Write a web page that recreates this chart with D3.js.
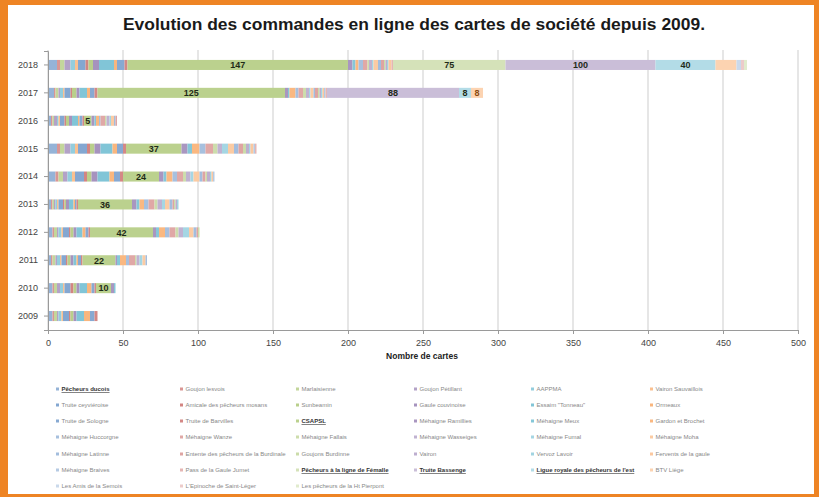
<!DOCTYPE html>
<html><head><meta charset="utf-8">
<script src="https://cdn.jsdelivr.net/npm/d3@7"></script>
<style>body{margin:0;background:#fff;}svg{display:block}</style>
</head><body>
<svg id="chart" width="819" height="497"></svg>
<script>
// ---------- DATA ----------
const years = ["2018","2017","2016","2015","2014","2013","2012","2011","2010","2009"];
const seriesNames = [
  "Pêcheurs ducois","Goujon lesvois","Marlaisienne","Goujon Pétillant","AAPPMA","Vairon Sauvaillois",
  "Truite ceyviéroise","Amicale des pêcheurs mosans","Sunbeamin","Gaule couvinoise","Essaim \"Tonneau\"","Ormeaux",
  "Truite de Sologne","Truite de Barvilles","CSAPSL","Méhaigne Ramillies","Méhaigne Meux","Gardon et Brochet",
  "Méhaigne Huccorgne","Méhaigne Wanze","Méhaigne Fallais","Méhaigne Wasseiges","Méhaigne Fumal","Méhaigne Moha",
  "Méhaigne Latinne","Entente des pêcheurs de la Burdinale","Goujons Burdinne","Vairon","Vervoz Lavoir","Fervents de la gaule",
  "Méhaigne Braives","Pass de la Gaule Jumet","Pêcheurs à la ligne de Fémalle","Truite Bassenge","Ligue royale des pêcheurs de l'est","BTV Liège",
  "Les Amis de la Semois","L'Epinoche de Saint-Léger","Les pêcheurs de la Ht Pierpont"
];
const values2018 = [6,2,3,4,3,2,5,2,3,4,10,2,5,2,147,3,2,2,3,3,1,2,1,3,2,2,1,1,1,2,0,1,75,100,40,14,3,2,2];
const values2017 = [4,1,2,1,2,1,4,1,3,2,5,2,3,2,125,2,1,4,2,3,2,2,1,2,1,2,1,1,1,1,1,1,0,88,8,8,0,0,0];
const values2016 = [2,1,1,2,1,1,3,1,2,2,4,1,2,1,5,2,1,2,1,3,1,2,1,2,1,1,0,0,0,0,0,0,0,0,0,0,0,0,0];
const values2015 = [6,2,3,4,3,2,6,2,3,4,8,3,4,2,37,4,3,5,4,5,3,3,4,4,3,3,2,2,1,2,1,1,0,0,0,0,0,0,0];
const values2014 = [5,2,3,3,3,2,6,2,3,4,8,3,4,2,24,3,2,4,3,4,2,3,2,4,2,2,1,2,1,1,1,0,0,0,0,0,0,0,0];
const values2013 = [2,1,1,1,1,1,3,1,1,2,3,1,1,1,36,3,2,3,3,4,2,3,2,3,2,1,1,1,1,0,0,0,0,0,0,0,0,0,0];
const values2012 = [3,1,2,1,2,1,4,1,2,2,4,2,2,1,42,2,2,4,3,4,2,3,4,3,2,1,1,0,0,0,0,0,0,0,0,0,0,0,0];
const values2011 = [2,1,2,1,2,1,3,1,2,2,2,1,2,1,22,1,2,4,2,4,1,2,2,2,1,0,0,0,0,0,0,0,0,0,0,0,0,0,0];
const values2010 = [3,1,2,2,2,1,4,2,2,2,5,3,2,1,10,2,1,0,0,0,0,0,0,0,0,0,0,0,0,0,0,0,0,0,0,0,0,0,0];
const values2009 = [3,1,2,1,2,1,4,1,2,2,5,4,3,2,0,0,0,0,0,0,0,0,0,0,0,0,0,0,0,0,0,0,0,0,0,0,0,0,0];
const valuesByYear = {"2018":values2018,"2017":values2017,"2016":values2016,"2015":values2015,"2014":values2014,
  "2013":values2013,"2012":values2012,"2011":values2011,"2010":values2010,"2009":values2009};
const xTicks = [0,50,100,150,200,250,300,350,400,450,500];
const labelledPoints = [
  ["2018","CSAPSL"],["2018","Pêcheurs à la ligne de Fémalle"],["2018","Truite Bassenge"],["2018","Ligue royale des pêcheurs de l'est"],
  ["2017","CSAPSL"],["2017","Truite Bassenge"],["2017","Ligue royale des pêcheurs de l'est"],["2017","BTV Liège"],
  ["2016","CSAPSL"],["2015","CSAPSL"],["2014","CSAPSL"],["2013","CSAPSL"],["2012","CSAPSL"],["2011","CSAPSL"],["2010","CSAPSL"]
];
const underlined = ["Pêcheurs ducois","CSAPSL","Pêcheurs à la ligne de Fémalle","Truite Bassenge","Ligue royale des pêcheurs de l'est"];
const title = "Evolution des commandes en ligne des cartes de société depuis 2009.";
const xTitle = "Nombre de cartes";

// ---------- STYLE ----------
const baseHues = ["#4F81BD","#C0504D","#9BBB59","#8064A2","#4BACC6","#F79646"];
const rowTint = [0.4,0.3,0.32,0.5,0.48,0.58,0.7];
const color = i => d3.interpolateRgb(baseHues[i % 6], "#ffffff")(rowTint[Math.floor(i / 6)]);
const font = "'Liberation Sans', Arial, sans-serif";

const svg = d3.select("#chart");
const W = 819, H = 497;
svg.append("rect").attr("width", W).attr("height", H).attr("fill", "#EE8424");
svg.append("rect").attr("x", 8).attr("y", 5).attr("width", 806).attr("height", 489).attr("fill", "#fff");

svg.append("text").attr("x", 414).attr("y", 30).attr("text-anchor", "middle")
  .attr("font-family", font).attr("font-weight", "bold").attr("font-size", 16)
  .attr("fill", "#1a1a1a").attr("textLength", 582).attr("lengthAdjust", "spacingAndGlyphs").text(title);

const x = d3.scaleLinear().domain([0, 500]).range([48, 798]);
const y = d3.scaleBand().domain(years).range([51, 330]).paddingInner(0.64).paddingOuter(0.32);

// gridlines
svg.append("g").selectAll("line").data(xTicks).join("line")
  .attr("x1", d => x(d)).attr("x2", d => x(d)).attr("y1", 50).attr("y2", 330)
  .attr("stroke", "#cdcdcd").attr("stroke-width", 1);

// stacked bars
const keys = seriesNames.map((d, i) => i);
const rows = years.map(yr => ({year: yr, values: valuesByYear[yr]}));
const stacked = d3.stack().keys(keys).value((r, k) => r.values[k])(rows);

const gBars = svg.append("g");
stacked.forEach((layer, i) => {
  gBars.append("g").attr("fill", color(i)).selectAll("rect")
    .data(layer.filter(d => d[1] > d[0])).join("rect")
    .attr("x", d => x(d[0])).attr("y", d => y(d.data.year))
    .attr("width", d => x(d[1]) - x(d[0])).attr("height", y.bandwidth());
});

// data labels
const gLab = svg.append("g");
labelledPoints.forEach(([yr, name]) => {
  const si = seriesNames.indexOf(name);
  const seg = stacked[si].find(d => d.data.year === yr);
  if (!seg || seg[1] <= seg[0]) return;
  gLab.append("text").attr("x", x((seg[0] + seg[1]) / 2)).attr("y", y(yr) + y.bandwidth() / 2 + 3.3)
    .attr("text-anchor", "middle").attr("font-family", font).attr("font-weight", "bold").attr("font-size", 9)
    .attr("fill", name === "BTV Liège" ? "#8a4a12" : "#1f2a18").text(seg[1] - seg[0]);
});

// axes
const xAxis = svg.append("g").attr("transform", "translate(0,330)")
  .call(d3.axisBottom(x).tickValues(xTicks).tickSize(4).tickPadding(6));
xAxis.select(".domain").attr("stroke", "#9a9a9a");
xAxis.selectAll(".tick line").attr("stroke", "#9a9a9a");
xAxis.selectAll("text").attr("font-family", font).attr("font-size", 9).attr("fill", "#444");

const yAxis = svg.append("g").attr("transform", "translate(48,0)")
  .call(d3.axisLeft(y).tickSize(4).tickPadding(6));
yAxis.select(".domain").attr("stroke", "#9a9a9a");
yAxis.selectAll(".tick line").attr("stroke", "#9a9a9a");
yAxis.selectAll("text").attr("font-family", font).attr("font-size", 9).attr("fill", "#444");

svg.append("text").attr("x", 422).attr("y", 359).attr("text-anchor", "middle")
  .attr("font-family", font).attr("font-weight", "bold").attr("font-size", 8.5).attr("fill", "#222").text(xTitle);

// legend
const colX = [58, 182, 298, 416, 533, 652];
const rowY = [389, 405, 421, 437, 454, 470, 486];
const gLeg = svg.append("g");
seriesNames.forEach((name, i) => {
  const cx = colX[i % 6], cy = rowY[Math.floor(i / 6)];
  const g = gLeg.append("g");
  g.append("rect").attr("x", cx - 2).attr("y", cy - 1.5).attr("width", 3).attr("height", 3).attr("fill", color(i));
  const u = underlined.includes(name);
  g.append("text").attr("x", cx + 3.5).attr("y", cy + 2)
    .attr("font-family", font).attr("font-size", 6).attr("fill", u ? "#333" : "#888")
    .attr("font-weight", u ? "bold" : "normal")
    .attr("text-decoration", u ? "underline" : null).text(name);
});
</script>
</body></html>
